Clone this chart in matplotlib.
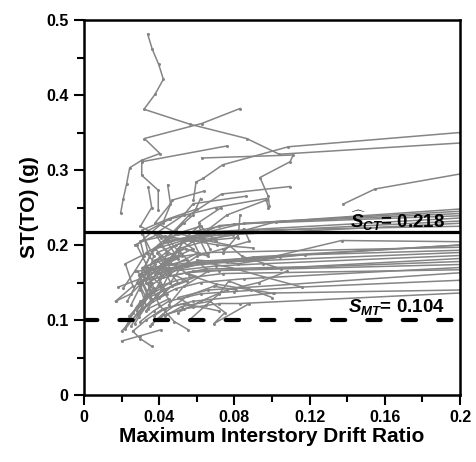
import matplotlib
matplotlib.use("Agg")
import matplotlib.pyplot as plt
from matplotlib.ticker import MultipleLocator

plt.rcParams['font.family'] = ['Liberation Sans', 'DejaVu Sans']
plt.rcParams['mathtext.fontset'] = 'custom'
plt.rcParams['mathtext.it'] = 'Liberation Sans:italic:bold'
plt.rcParams['mathtext.rm'] = 'Liberation Sans:bold'
plt.rcParams['mathtext.bf'] = 'Liberation Sans:bold'

# IDA curves: maximum interstory drift ratio vs ST(TO)
drift = [
    [0.0339, 0.0363, 0.0397, 0.0422, 0.0378, 0.0319, 0.0564, 0.0865, 0.1039, 0.2],
    [0.0195, 0.0209, 0.0227, 0.0243, 0.0307, 0.0404, 0.0321, 0.0626, 0.0830],
    [0.0395, 0.0395, 0.0307, 0.0307, 0.0759],
    [0.0582, 0.0596, 0.0635, 0.0738, 0.1087, 0.2],
    [0.0986, 0.0980, 0.0936, 0.1096, 0.1113, 0.0626],
    [0.138, 0.1548, 0.2],
    [0.0426, 0.0560, 0.0732, 0.1096],
    # upper bundle reaching 0.2
    [0.024, 0.033, 0.029, 0.045, 0.038, 0.058, 0.072, 0.2],
    [0.030, 0.036, 0.031, 0.048, 0.040, 0.062, 0.085, 0.2],
    [0.022, 0.028, 0.041, 0.033, 0.055, 0.050, 0.102, 0.2],
    [0.035, 0.030, 0.052, 0.044, 0.066, 0.080, 0.2],
    [0.026, 0.034, 0.029, 0.050, 0.044, 0.070, 0.2],
    [0.032, 0.046, 0.041, 0.058, 0.052, 0.075, 0.120, 0.2],
    [0.028, 0.037, 0.033, 0.049, 0.063, 0.2],
    [0.038, 0.044, 0.039, 0.057, 0.069, 0.092, 0.2],
    # lower bundle reaching 0.2
    [0.027, 0.033, 0.029, 0.054, 0.076, 0.100, 0.137, 0.2],
    [0.020, 0.029, 0.036, 0.031, 0.060, 0.2],
    [0.031, 0.035, 0.045, 0.039, 0.066, 0.2],
    [0.024, 0.030, 0.043, 0.038, 0.055, 0.088, 0.1176, 0.2],
    [0.033, 0.039, 0.050, 0.044, 0.061, 0.2],
    [0.029, 0.036, 0.034, 0.046, 0.070, 0.095, 0.2],
    [0.036, 0.042, 0.055, 0.048, 0.065, 0.117, 0.2],
    [0.025, 0.031, 0.044, 0.040, 0.058, 0.2],
    [0.040, 0.047, 0.060, 0.054, 0.072, 0.2],
    [0.022, 0.028, 0.036, 0.049, 0.062, 0.085, 0.2],
    [0.034, 0.045, 0.040, 0.052, 0.074, 0.2],
    [0.046, 0.051, 0.064, 0.078, 0.090, 0.2],
    # bottom bundle
    [0.030, 0.037, 0.045, 0.062, 0.080, 0.116, 0.2],
    [0.026, 0.033, 0.042, 0.058, 0.101, 0.2],
    [0.035, 0.041, 0.053, 0.072, 0.083, 0.2],
    [0.044, 0.058, 0.050, 0.066, 0.2],
    # curves ending inside the cluster
    [0.020, 0.030, 0.041],
    [0.026, 0.030, 0.036],
    [0.0168, 0.025, 0.033, 0.028, 0.045, 0.050],
    [0.0183, 0.030, 0.038, 0.033, 0.041, 0.053],
    [0.0555, 0.048, 0.040, 0.035, 0.045, 0.055],
    [0.030, 0.034, 0.028, 0.042, 0.047, 0.064],
    [0.041, 0.044, 0.038, 0.053, 0.058, 0.086],
    [0.033, 0.037, 0.031, 0.046, 0.070, 0.097],
    [0.0342, 0.036, 0.030, 0.041, 0.057, 0.079],
    [0.0445, 0.046, 0.038, 0.050, 0.064],
    [0.025, 0.031, 0.043, 0.058, 0.076, 0.097, 0.098],
    [0.039, 0.045, 0.060, 0.074, 0.088, 0.085, 0.074],
    [0.045, 0.053, 0.066, 0.060, 0.082, 0.104],
    [0.050, 0.062, 0.076, 0.093, 0.108],
    [0.056, 0.065, 0.072, 0.077, 0.100],
    [0.037, 0.043, 0.053, 0.072],
    [0.030, 0.036, 0.049, 0.062, 0.070],
    [0.023, 0.030, 0.037, 0.049, 0.058, 0.062],
    [0.041, 0.050, 0.052, 0.061, 0.067],
    [0.036, 0.042, 0.055, 0.069, 0.081],
    [0.0168, 0.026, 0.022, 0.034, 0.031, 0.045, 0.060],
    [0.021, 0.027, 0.032, 0.030, 0.043, 0.071, 0.090],
    [0.028, 0.042, 0.035, 0.062, 0.078, 0.095, 0.1158],
    [0.033, 0.047, 0.056, 0.070, 0.089, 0.1007],
    [0.049, 0.061, 0.057, 0.077, 0.084, 0.105],
    [0.038, 0.054, 0.066, 0.062, 0.082, 0.083],
    [0.027, 0.040, 0.046, 0.065, 0.061, 0.073],
    [0.043, 0.052, 0.067, 0.075, 0.069, 0.088],
]
sa = [
    [0.481, 0.461, 0.441, 0.421, 0.401, 0.381, 0.361, 0.342, 0.321, 0.336],
    [0.243, 0.262, 0.282, 0.303, 0.313, 0.322, 0.342, 0.362, 0.382],
    [0.247, 0.273, 0.293, 0.311, 0.332],
    [0.260, 0.284, 0.289, 0.307, 0.331, 0.350],
    [0.252, 0.265, 0.290, 0.311, 0.320, 0.316],
    [0.2547, 0.2747, 0.2947],
    [0.205, 0.240, 0.268, 0.278],
    [0.105, 0.130, 0.150, 0.175, 0.195, 0.210, 0.226, 0.248],
    [0.120, 0.150, 0.170, 0.185, 0.200, 0.215, 0.229, 0.245],
    [0.090, 0.118, 0.146, 0.165, 0.180, 0.195, 0.231, 0.242],
    [0.130, 0.158, 0.186, 0.210, 0.222, 0.228, 0.239],
    [0.110, 0.132, 0.160, 0.182, 0.205, 0.218, 0.236],
    [0.128, 0.150, 0.175, 0.195, 0.205, 0.215, 0.222, 0.232],
    [0.112, 0.143, 0.170, 0.200, 0.212, 0.229],
    [0.140, 0.168, 0.190, 0.208, 0.215, 0.220, 0.225],
    [0.095, 0.120, 0.150, 0.175, 0.178, 0.184, 0.206, 0.2044],
    [0.085, 0.110, 0.138, 0.160, 0.178, 0.200],
    [0.118, 0.145, 0.162, 0.180, 0.190, 0.197],
    [0.100, 0.125, 0.140, 0.162, 0.172, 0.180, 0.187, 0.193],
    [0.112, 0.135, 0.150, 0.168, 0.176, 0.190],
    [0.104, 0.128, 0.150, 0.165, 0.172, 0.175, 0.186],
    [0.125, 0.140, 0.152, 0.160, 0.168, 0.171, 0.182],
    [0.092, 0.115, 0.135, 0.155, 0.165, 0.178],
    [0.130, 0.146, 0.158, 0.163, 0.166, 0.174],
    [0.088, 0.108, 0.126, 0.142, 0.150, 0.155, 0.170],
    [0.115, 0.128, 0.145, 0.155, 0.162, 0.167],
    [0.150, 0.168, 0.176, 0.180, 0.184, 0.2],
    [0.098, 0.112, 0.125, 0.135, 0.138, 0.144, 0.153],
    [0.085, 0.100, 0.115, 0.125, 0.136, 0.140],
    [0.092, 0.105, 0.115, 0.122, 0.122, 0.136],
    [0.108, 0.118, 0.130, 0.140, 0.163],
    [0.072, 0.079, 0.087],
    [0.085, 0.075, 0.065],
    [0.125, 0.135, 0.155, 0.165, 0.170, 0.195],
    [0.144, 0.155, 0.175, 0.190, 0.200, 0.230],
    [0.087, 0.098, 0.120, 0.150, 0.180, 0.210],
    [0.140, 0.170, 0.200, 0.230, 0.260, 0.272],
    [0.160, 0.190, 0.215, 0.240, 0.255, 0.265],
    [0.150, 0.185, 0.215, 0.235, 0.250, 0.262],
    [0.277, 0.250, 0.225, 0.210, 0.205, 0.213],
    [0.280, 0.255, 0.230, 0.215, 0.208],
    [0.120, 0.150, 0.178, 0.205, 0.240, 0.260, 0.250],
    [0.130, 0.160, 0.185, 0.195, 0.205, 0.222, 0.190],
    [0.120, 0.145, 0.165, 0.180, 0.175, 0.184],
    [0.110, 0.125, 0.140, 0.150, 0.165],
    [0.100, 0.120, 0.135, 0.152, 0.130],
    [0.105, 0.115, 0.122, 0.112],
    [0.160, 0.190, 0.215, 0.225, 0.205],
    [0.125, 0.158, 0.195, 0.220, 0.240, 0.262],
    [0.172, 0.185, 0.205, 0.225, 0.195],
    [0.095, 0.108, 0.132, 0.145, 0.140],
    [0.125, 0.145, 0.175, 0.190, 0.220, 0.235, 0.248],
    [0.143, 0.165, 0.185, 0.205, 0.212, 0.200, 0.196],
    [0.150, 0.158, 0.170, 0.178, 0.170, 0.158, 0.144],
    [0.165, 0.175, 0.160, 0.148, 0.140, 0.1356],
    [0.175, 0.190, 0.210, 0.200, 0.185, 0.168],
    [0.180, 0.195, 0.185, 0.205, 0.210, 0.240],
    [0.200, 0.215, 0.205, 0.215, 0.230, 0.250],
    [0.105, 0.118, 0.125, 0.110, 0.095, 0.122],
]

s_ct = 0.218
s_mt = 0.100
s_ct_label = r'$\widehat{S}_{CT}$= 0.218'
s_mt_label = r'$S_{MT}$= 0.104'

x_ticks = [0, 0.04, 0.08, 0.12, 0.16, 0.2]
x_tick_labels = ['0', '0.04', '0.08', '0.12', '0.16', '0.2']
y_ticks = [0, 0.1, 0.2, 0.3, 0.4, 0.5]
y_tick_labels = ['0', '0.1', '0.2', '0.3', '0.4', '0.5']

fig = plt.figure(figsize=(4.76, 4.62), dpi=100)
ax = fig.add_axes([0.1765, 0.145, 0.7899, 0.8117])

for xs, ys in zip(drift, sa):
    ax.plot(xs, ys, color='#858585', lw=1.1, marker='o', markersize=2.2,
            markeredgewidth=0, zorder=2)

ax.axhline(s_ct, color='black', lw=2.3, zorder=3)
ax.axhline(s_mt, color='black', lw=3.0, linestyle=(0, (3.2, 5.3)),
           dash_capstyle='round', zorder=3)

ax.text(0.192, 0.233, s_ct_label, ha='right', va='center', fontsize=13.5,
        fontweight='bold', zorder=4)
ax.text(0.192, 0.117, s_mt_label, ha='right', va='center', fontsize=13.5,
        fontweight='bold', zorder=4)

ax.set_xlim(0, 0.2)
ax.set_ylim(0, 0.5)
ax.set_xticks(x_ticks)
ax.set_xticklabels(x_tick_labels)
ax.set_yticks(y_ticks)
ax.set_yticklabels(y_tick_labels)
ax.xaxis.set_minor_locator(MultipleLocator(0.02))
ax.yaxis.set_minor_locator(MultipleLocator(0.05))
ax.tick_params(which='major', direction='out', length=7, width=1.5,
               labelsize=11.5, pad=4, top=False, right=False)
ax.tick_params(which='minor', direction='out', length=5, width=1.5,
               top=False, right=False)
for lab in ax.get_xticklabels() + ax.get_yticklabels():
    lab.set_fontweight('bold')
for sp in ax.spines.values():
    sp.set_linewidth(1.8)

ax.set_xlabel('Maximum Interstory Drift Ratio', fontsize=15,
              fontweight='bold', labelpad=1)
ax.set_ylabel('ST(TO) (g)', fontsize=15, fontweight='bold', labelpad=5)

fig.savefig('out.png', dpi=100)
